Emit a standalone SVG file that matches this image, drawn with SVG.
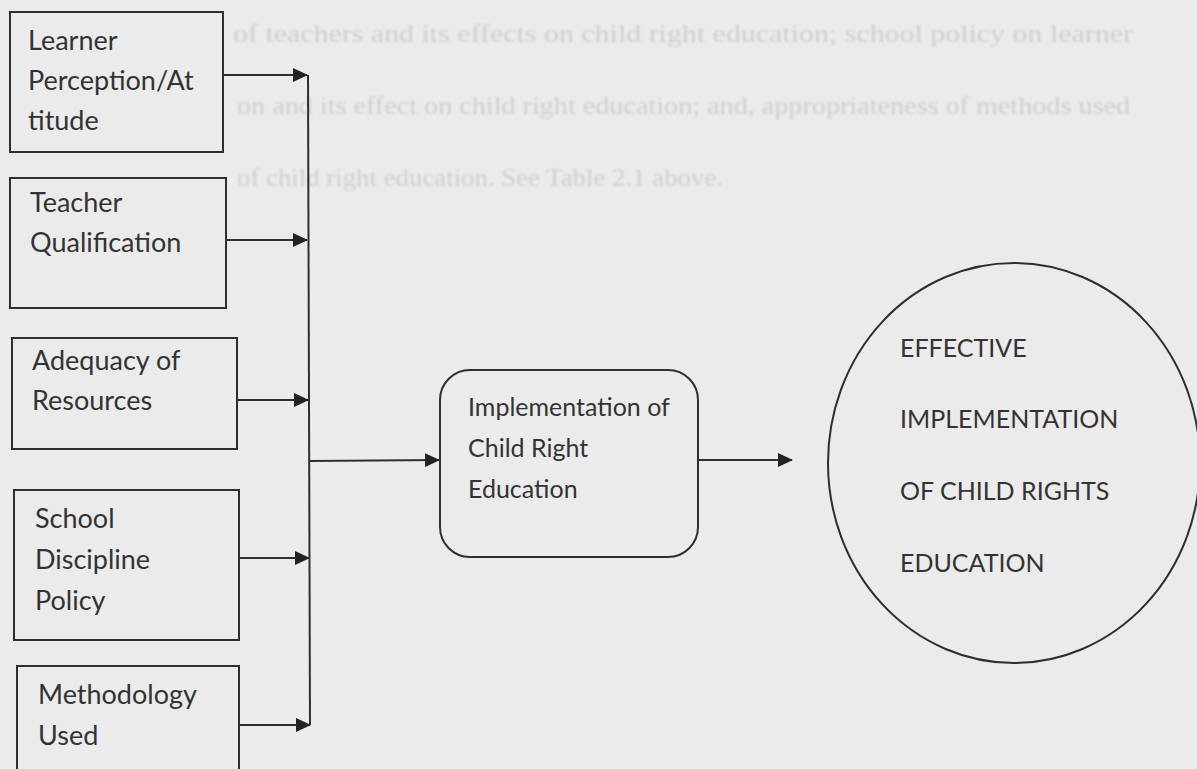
<svg xmlns="http://www.w3.org/2000/svg" width="1197" height="769" viewBox="0 0 1197 769">
<style>
.bg{fill:#ebebeb}
.box{fill:#ebebeb;stroke:#2e2e2e;stroke-width:2}
.lbl{font-family:Lato,"Open Sans","Liberation Sans",sans-serif;font-size:27px;fill:#333}
.sm{font-size:25px}
.ghost{font-family:"Liberation Serif",serif;font-size:25px;fill:#cfcfcf}
.con{stroke:#2e2e2e;stroke-width:2;fill:none}
</style>
<defs>
<marker id="ah" markerWidth="15" markerHeight="14" refX="14" refY="7" orient="auto" markerUnits="userSpaceOnUse">
<path d="M0,0 L15,7 L0,14 Z" fill="#222"/>
</marker>
<filter id="blur" x="-5%" y="-50%" width="110%" height="200%">
<feGaussianBlur stdDeviation="1.2"/>
</filter>
</defs>
<rect class="bg" x="0" y="0" width="1197" height="769"/>
<g id="bleed-text" filter="url(#blur)">
<text class="ghost" x="233" y="42" textLength="900" lengthAdjust="spacingAndGlyphs">of teachers and its effects on child right education; school policy on learner</text>
<text class="ghost" x="237" y="114" textLength="893" lengthAdjust="spacingAndGlyphs">on and its effect on child right education; and, appropriateness of methods used</text>
<text class="ghost" x="237" y="186" textLength="486" lengthAdjust="spacingAndGlyphs">of child right education. See Table 2.1 above.</text>
</g>
<g id="connectors">
<line class="con" x1="223" y1="75" x2="307" y2="75" marker-end="url(#ah)"/>
<line class="con" x1="226" y1="240" x2="307" y2="240" marker-end="url(#ah)"/>
<line class="con" x1="237" y1="400" x2="308" y2="400" marker-end="url(#ah)"/>
<line class="con" x1="239" y1="558" x2="309" y2="558" marker-end="url(#ah)"/>
<line class="con" x1="239" y1="725" x2="310" y2="725" marker-end="url(#ah)"/>
<line class="con" x1="308" y1="75" x2="310" y2="725"/>
<line class="con" x1="309" y1="461" x2="439" y2="460" marker-end="url(#ah)"/>
<line class="con" x1="698" y1="460" x2="792" y2="460" marker-end="url(#ah)"/>
</g>
<g id="n1">
<rect class="box" x="10" y="12" width="213" height="140"/>
<text class="lbl" x="28" y="50">Learner</text>
<text class="lbl" x="28" y="90">Perception/At</text>
<text class="lbl" x="28" y="130">titude</text>
</g>
<g id="n2">
<rect class="box" x="10" y="178" width="216" height="130"/>
<text class="lbl" x="30" y="212">Teacher</text>
<text class="lbl" x="30" y="252">Qualification</text>
</g>
<g id="n3">
<rect class="box" x="12" y="338" width="225" height="111"/>
<text class="lbl" x="32" y="370">Adequacy of</text>
<text class="lbl" x="32" y="410">Resources</text>
</g>
<g id="n4">
<rect class="box" x="14" y="490" width="225" height="150"/>
<text class="lbl" x="35" y="528">School</text>
<text class="lbl" x="35" y="569">Discipline</text>
<text class="lbl" x="35" y="610">Policy</text>
</g>
<g id="n5">
<rect class="box" x="17" y="666" width="222" height="130"/>
<text class="lbl" x="38" y="704">Methodology</text>
<text class="lbl" x="38" y="745">Used</text>
</g>
<g id="n6">
<rect class="box" x="440" y="370" width="258" height="187" rx="30" ry="30"/>
<text class="lbl sm" x="468" y="416">Implementation of</text>
<text class="lbl sm" x="468" y="457">Child Right</text>
<text class="lbl sm" x="468" y="498">Education</text>
</g>
<g id="n7">
<ellipse class="box" cx="1014" cy="463" rx="186" ry="200"/>
<text class="lbl sm" x="900" y="357">EFFECTIVE</text>
<text class="lbl sm" x="900" y="428">IMPLEMENTATION</text>
<text class="lbl sm" x="900" y="500">OF CHILD RIGHTS</text>
<text class="lbl sm" x="900" y="572">EDUCATION</text>
</g>
</svg>
